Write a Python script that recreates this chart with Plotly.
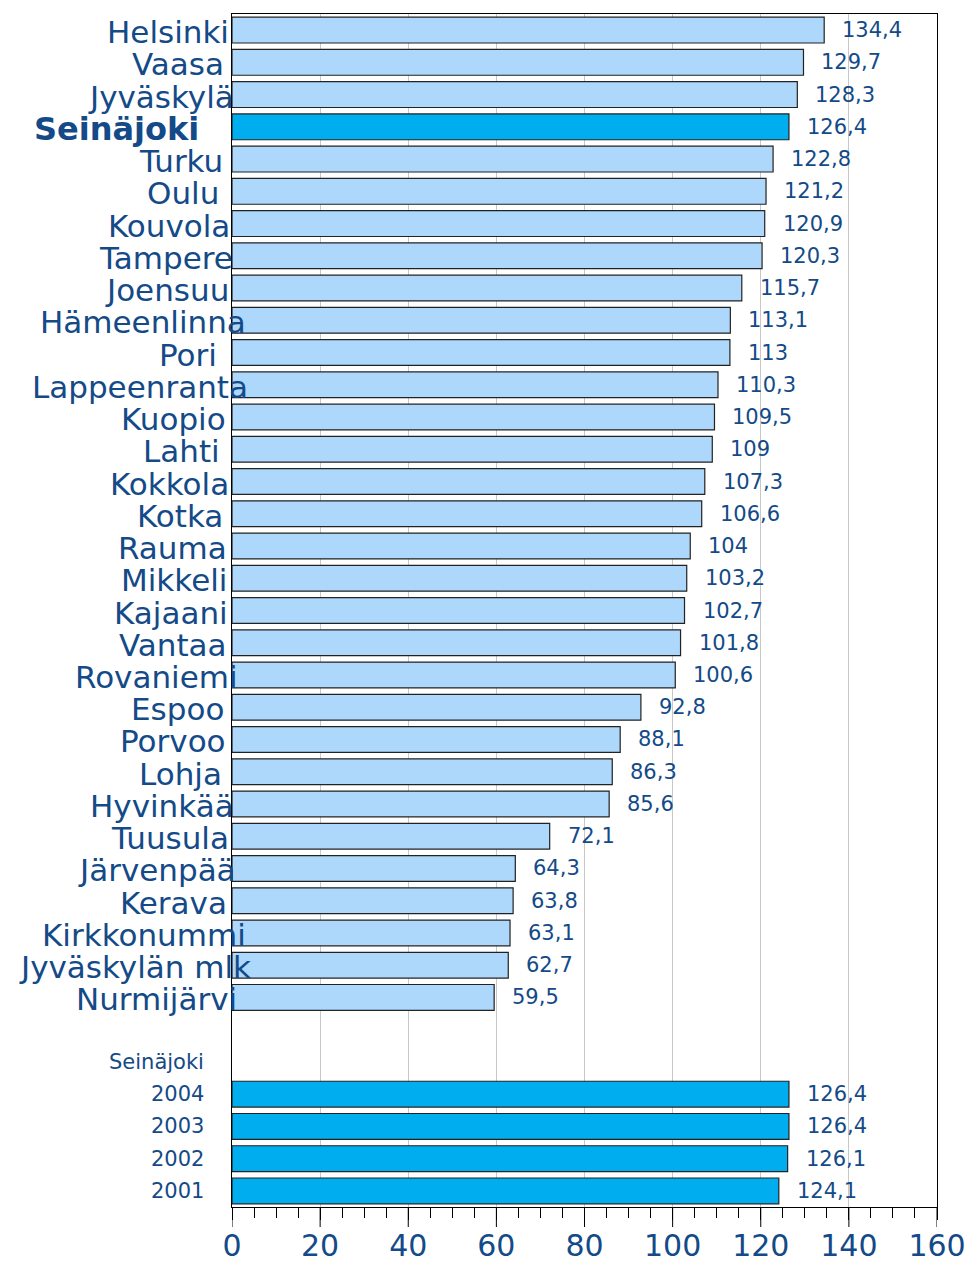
import plotly.graph_objects as go

cities = ["Helsinki", "Vaasa", "Jyväskylä", "Seinäjoki", "Turku", "Oulu", "Kouvola",
          "Tampere", "Joensuu", "Hämeenlinna", "Pori", "Lappeenranta", "Kuopio", "Lahti",
          "Kokkola", "Kotka", "Rauma", "Mikkeli", "Kajaani", "Vantaa", "Rovaniemi",
          "Espoo", "Porvoo", "Lohja", "Hyvinkää", "Tuusula", "Järvenpää", "Kerava",
          "Kirkkonummi", "Jyväskylän mlk", "Nurmijärvi"]
city_values = [134.4, 129.7, 128.3, 126.4, 122.8, 121.2, 120.9, 120.3, 115.7, 113.1,
               113.0, 110.3, 109.5, 109.0, 107.3, 106.6, 104.0, 103.2, 102.7, 101.8,
               100.6, 92.8, 88.1, 86.3, 85.6, 72.1, 64.3, 63.8, 63.1, 62.7, 59.5]
highlight = "Seinäjoki"
history_title = "Seinäjoki"
years = ["2004", "2003", "2002", "2001"]
year_values = [126.4, 126.4, 126.1, 124.1]
x_ticks = [0, 20, 40, 60, 80, 100, 120, 140, 160]

TEXT = "#134A87"
LIGHT = "#ADD7FB"
DARK = "#00ADEE"
FONT = "DejaVu Sans, Verdana, sans-serif"

def fmt(v):
    return str(int(v)) if float(v).is_integer() else f"{v:.1f}".replace(".", ",")

W = {'a': .613, 'b': .635, 'c': .55, 'd': .635, 'e': .615, 'f': .352, 'g': .635,
     'h': .634, 'i': .278, 'j': .278, 'k': .579, 'l': .278, 'm': .974, 'n': .634,
     'o': .612, 'p': .635, 'r': .411, 's': .521, 't': .392, 'u': .634, 'v': .592,
     'y': .592, 'ä': .613, ' ': .318, 'H': .752, 'V': .684, 'J': .295, 'S': .635,
     'T': .611, 'O': .787, 'K': .656, 'L': .557, 'P': .603, 'M': .863, 'R': .695,
     'E': .632, 'N': .748}

def text_w(s, size):
    return sum(W.get(c, .6) for c in s) * size

# positions: cities, one empty slot, history header, years
n = len(cities)
city_pos = list(range(n))
header_pos = n + 1
year_pos = [n + 2 + i for i in range(len(years))]

# page has an 8px body margin; keep figure inside the viewport
PAGE = 8
FIG_W, FIG_H = 977 - 2 * PAGE, 1270 - 2 * PAGE
L, T = 232 - PAGE, 14 - PAGE
PLOT_W, PLOT_B = 705, 1207 - PAGE
R = FIG_W - L - PLOT_W
B = FIG_H - PLOT_B

def px_x(target):  # screen x -> shift relative to plot-left
    return target - 232

fig = go.Figure()
fig.add_trace(go.Bar(
    x=city_values, y=city_pos, orientation="h", width=0.8,
    marker=dict(color=[DARK if c == highlight else LIGHT for c in cities],
                line=dict(color="#222222", width=1.2)),
    hoverinfo="skip"))
fig.add_trace(go.Bar(
    x=year_values, y=year_pos, orientation="h", width=0.8,
    marker=dict(color=DARK, line=dict(color="#222222", width=1.2)),
    hoverinfo="skip"))

ann = []
for c, v, p in zip(cities, city_values, city_pos):
    ann.append(dict(x=v, y=p, xref="x", yref="y", text=fmt(v), showarrow=False,
                    xanchor="left", xshift=16, font=dict(family=FONT, size=21, color=TEXT)))
    if c == highlight:
        ann.append(dict(x=0, y=p, xref="paper", yref="y",
                        text=f"<b>{c}</b>", showarrow=False, xanchor="right",
                        xshift=px_x(201), yshift=-2,
                        font=dict(family=FONT, size=32, color=TEXT)))
    else:
        right = 207 + 0.2 * text_w(c, 31)
        ann.append(dict(x=0, y=p, xref="paper", yref="y", text=c, showarrow=False,
                        xanchor="right", xshift=px_x(right), yshift=-2,
                        font=dict(family=FONT, size=31, color=TEXT)))
for yv, v, p in zip(years, year_values, year_pos):
    ann.append(dict(x=v, y=p, xref="x", yref="y", text=fmt(v), showarrow=False,
                    xanchor="left", xshift=16, font=dict(family=FONT, size=21, color=TEXT)))
    ann.append(dict(x=0, y=p, xref="paper", yref="y", text=yv, showarrow=False,
                    xanchor="right", xshift=px_x(206), font=dict(family=FONT, size=21, color=TEXT)))
ann.append(dict(x=0, y=header_pos, xref="paper", yref="y", text=history_title,
                showarrow=False, xanchor="right", xshift=px_x(206),
                font=dict(family=FONT, size=21, color=TEXT)))

# long major tick marks below the axis
shapes = [dict(type="line", xref="x", yref="paper", x0=t, x1=t, ysizemode="pixel",
               yanchor=0, y0=0, y1=-20, line=dict(color="black", width=1))
          for t in x_ticks]

fig.update_layout(
    width=FIG_W, height=FIG_H, margin=dict(l=L, r=R, t=T, b=B, autoexpand=False),
    paper_bgcolor="white", plot_bgcolor="white", showlegend=False,
    bargap=0.2, annotations=ann, shapes=shapes,
    xaxis=dict(range=[x_ticks[0], x_ticks[-1]], tickvals=x_ticks, ticks="outside",
               ticklen=12, tickwidth=1, tickcolor="black", showline=True,
               linecolor="black", linewidth=1.2, mirror=True,
               showgrid=True, gridcolor="#C8C8C8", gridwidth=1, zeroline=False,
               minor=dict(dtick=5, ticks="outside", ticklen=10, tickcolor="black",
                          showgrid=False),
               tickfont=dict(family=FONT, size=30, color=TEXT), fixedrange=True),
    yaxis=dict(range=[year_pos[-1] + 0.5, -0.5], showticklabels=False, ticks="",
               showline=True, linecolor="black", linewidth=1.2, mirror=True,
               showgrid=False, zeroline=False, fixedrange=True),
)
fig.write_html("out.html")
